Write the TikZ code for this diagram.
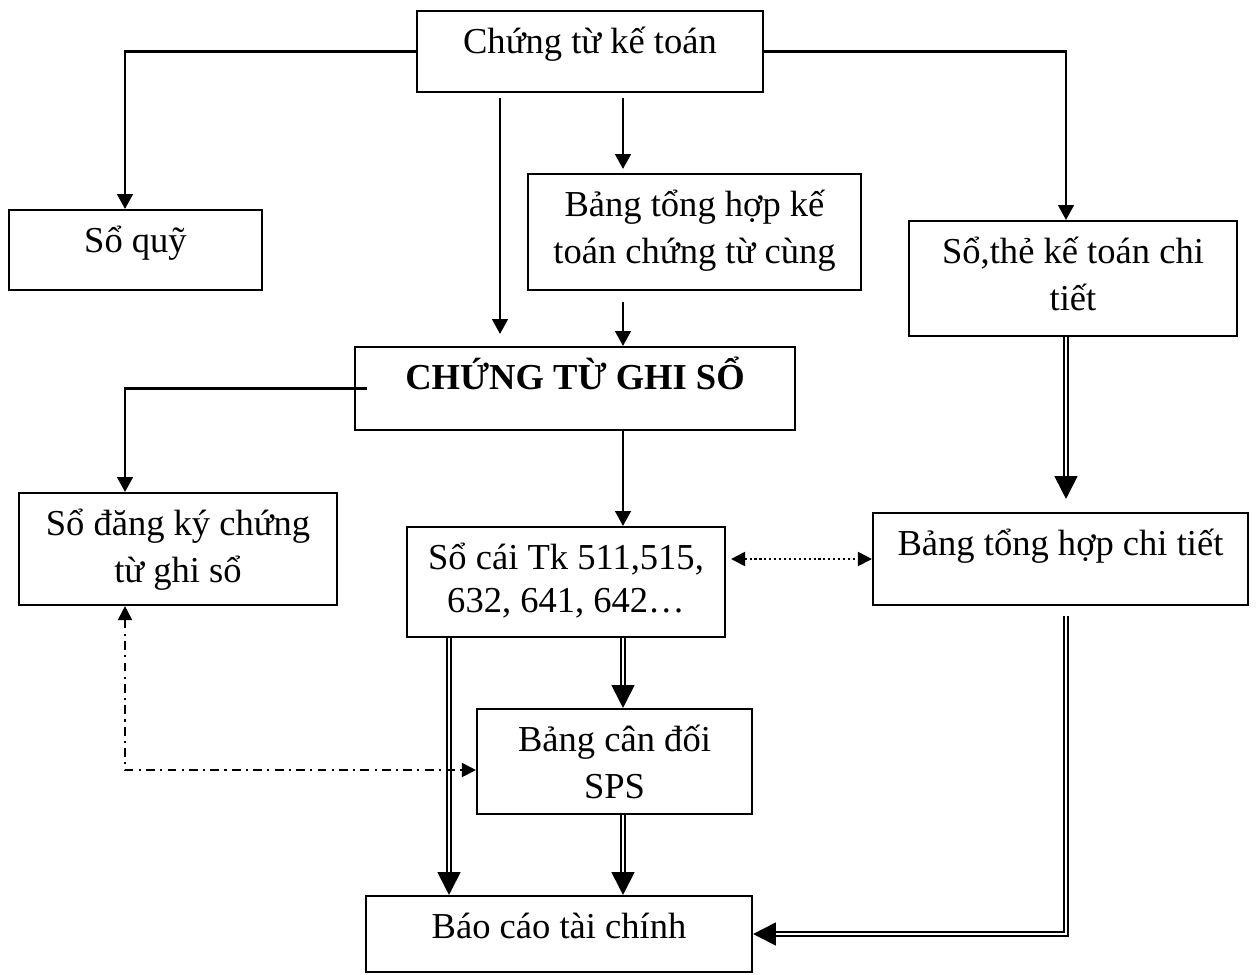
\documentclass[tikz,border=0pt]{standalone}
\usepackage{fontspec}
\setmainfont{Liberation Serif}
\usetikzlibrary{arrows.meta}

\newcommand{\topline}{\rule{0pt}{24.4pt}}

\begin{document}
\begin{tikzpicture}[x=0.02cm, y=-0.02cm,
        box/.style 2 args={draw, line width=1.2pt, inner sep=0pt, minimum width=#1*0.02cm, minimum height=#2*0.02cm},
        lbl/.style={anchor=north, align=center, inner sep=0pt, font=\fontsize{20.8}{27.2}\selectfont},
        arr/.style={line width=1.2pt, -{Triangle[length=8.5pt,width=9pt]}},
        dblarr/.style={double, double distance=1.4pt, line width=1.1pt, -{Triangle[length=13pt,width=13pt]}},
        dotarr/.style={line width=1.1pt, dash pattern=on 1.2pt off 1.6pt, {Triangle[length=8pt,width=8pt]}-{Triangle[length=8pt,width=8pt]}},
        dasharr/.style={line width=1.1pt, dash pattern=on 5pt off 3pt on 1.2pt off 3pt, {Triangle[length=8pt,width=8pt]}-{Triangle[length=8pt,width=8pt]}}]
        \useasboundingbox (0,0) rectangle (1257,974);

        % Draw the boxes
        \node[box={346}{81}] (ctkt) at (590,51.5) {};
        \node[box={253}{80}] (soquy) at (135.5,250) {};
        \node[box={333}{116}] (bthkt) at (694.5,232) {};
        \node[box={328}{115}] (sothe) at (1073,278.5) {};
        \node[box={440}{83}] (ctgs) at (575,388.5) {};
        \node[box={318}{112}] (sodk) at (178,549) {};
        \node[box={318}{110}] (socai) at (566,582) {};
        \node[box={375}{92}] (bthct) at (1060.5,559) {};
        \node[box={275}{105}] (bcd) at (614.5,761.5) {};
        \node[box={386}{76}] (bctc) at (559,934) {};

        % Add the texts at the top of the boxes
        \node[lbl] (ctkt-t) at (ctkt.north) {\topline Chứng từ kế toán};
        \node[lbl] (soquy-t) at (soquy.north) {\topline Sổ quỹ};
        \node[lbl] (bthkt-t) at (bthkt.north) {\topline Bảng tổng hợp kế\\toán chứng từ cùng};
        \node[lbl] (sothe-t) at (sothe.north) {\topline Sổ,thẻ kế toán chi\\tiết};
        \node[lbl] (ctgs-t) at (ctgs.north) {\topline\textbf{CHỨNG TỪ GHI SỔ}};
        \node[lbl] (sodk-t) at (sodk.north) {\topline Sổ đăng ký chứng\\từ ghi sổ};
        \node[lbl, font=\fontsize{20.8}{24.4}\selectfont] (socai-t) at (socai.north) {\topline Sổ cái Tk 511,515,\\632, 641, 642…};
        \node[lbl] (bthct-t) at (bthct.north) {\topline Bảng tổng hợp chi tiết};
        \node[lbl] (bcd-t) at (bcd.north) {\topline Bảng cân đối\\SPS};
        \node[lbl] (bctc-t) at (bctc.north) {\topline Báo cáo tài chính};

        % Single arrows
        \draw[arr] (ctkt.west) -| (soquy.north -| 125,0);
        \draw[arr] (ctkt.east) -| (sothe.north -| 1066,0);
        \draw[arr, shorten <=0.1cm, shorten >=0.24cm] (ctkt.south -| 500,0) -- (ctgs.north -| 500,0);
        \draw[arr, shorten <=0.1cm, shorten >=0.08cm] (ctkt.south -| 623,0) -- (bthkt.north -| 623,0);
        \draw[arr, shorten <=0.22cm] (bthkt.south -| 623,0) -- (ctgs.north -| 623,0);
        \draw[arr] ([xshift=0.26cm]ctgs.west) -| (sodk.north -| 125,0);
        \draw[arr] (ctgs.south -| 623,0) -- (socai.north -| 623,0);

        % Double arrows
        \draw[dblarr, shorten >=0.26cm] (sothe.south -| 1066,0) -- (bthct.north -| 1066,0);
        \draw[dblarr] (socai.south -| 623,0) -- (bcd.north -| 623,0);
        \draw[dblarr] (socai.south -| 449,0) -- (bctc.north -| 449,0);
        \draw[dblarr] (bcd.south -| 623,0) -- (bctc.north -| 623,0);
        \draw[dblarr, shorten <=0.2cm] (bthct.south -| 1066,0) |- (bctc.east);

        % Dotted and dash-dot links
        \draw[dotarr, shorten <=0.1cm] (socai.east |- bthct.west) -- (bthct.west);
        \draw[dasharr] (sodk.south -| 125,0) |- ([yshift=-0.17cm]bcd.west);
    \end{tikzpicture}
\end{document}
